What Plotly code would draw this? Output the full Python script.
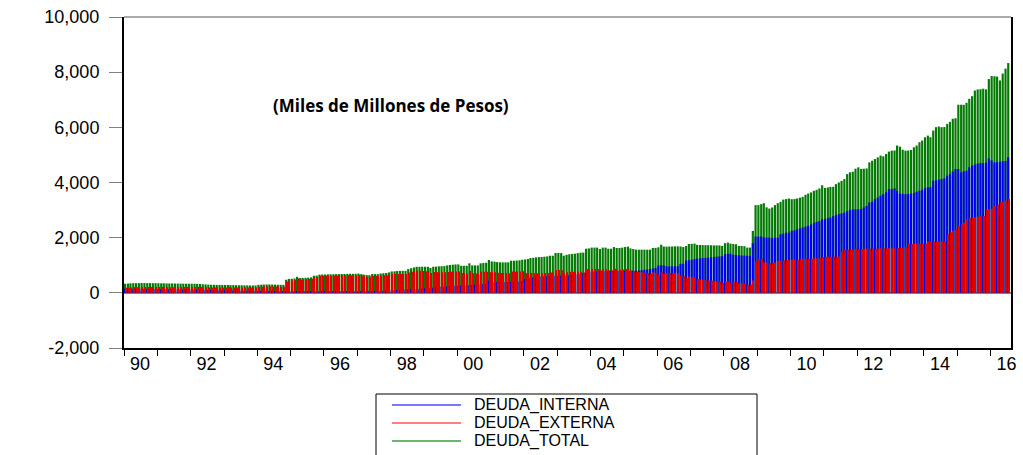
import pandas as pd
import plotly.graph_objects as go

# ---------------- data (monthly, Jan-1990 .. Jul-2016) ----------------
MONTHS = pd.date_range("1990-01-01", "2016-07-01", freq="MS").strftime("%Y-%m-%d").tolist()

INTERNA = [
    150, 150, 148, 148, 146, 146, 145, 145, 144, 143, 142, 140,      # 1990
    140, 138, 137, 136, 135, 134, 132, 130, 128, 126, 124, 122,      # 1991
    120, 118, 116, 113, 110, 107, 104, 100, 98, 95, 93, 90,          # 1992
    88, 86, 85, 84, 82, 80, 79, 78, 77, 76, 75, 74,                  # 1993
    73, 72, 72, 71, 70, 70, 69, 68, 68, 67, 66, 66,                  # 1994
    60, 58, 56, 55, 54, 53, 52, 52, 51, 50, 50, 50,                  # 1995
    50, 49, 49, 48, 48, 48, 48, 49, 49, 50, 50, 51,                  # 1996
    52, 54, 56, 58, 60, 62, 64, 66, 70, 75, 80, 85,                  # 1997
    95, 100, 105, 110, 115, 120, 125, 128, 130, 135, 140, 150,       # 1998
    160, 170, 180, 190, 200, 210, 220, 228, 236, 244, 250, 255,      # 1999
    258, 262, 266, 270, 278, 285, 292, 300, 310, 320, 330, 440,      # 2000
    380, 380, 385, 385, 390, 390, 392, 395, 398, 400, 405, 420,      # 2001
    500, 520, 540, 560, 575, 585, 590, 595, 600, 605, 610, 615,      # 2002
    620, 622, 625, 630, 640, 650, 660, 670, 690, 720, 740, 760,      # 2003
    770, 772, 775, 778, 780, 782, 785, 785, 788, 790, 792, 795,      # 2004
    795, 798, 800, 802, 805, 810, 820, 835, 850, 865, 880, 900,      # 2005
    990, 1000, 995, 960, 960, 960, 960, 965, 1050, 1055, 1175, 1180,  # 2006
    1200, 1220, 1240, 1250, 1260, 1270, 1280, 1290, 1300, 1310, 1320, 1330,  # 2007
    1395, 1410, 1420, 1380, 1370, 1360, 1355, 1350, 1345, 1340, 1800, 2040,  # 2008
    2040, 2040, 2010, 2000, 2000, 1990, 1995, 2000, 2120, 2150, 2180, 2180,  # 2009
    2245, 2270, 2300, 2330, 2365, 2400, 2425, 2480, 2525, 2570, 2600, 2670,  # 2010
    2670, 2700, 2730, 2780, 2815, 2850, 2880, 2910, 2960, 3010, 3020, 3030,  # 2011
    3030, 3040, 3095, 3150, 3275, 3300, 3395, 3450, 3520, 3580, 3650, 3760,  # 2012
    3760, 3785, 3700, 3600, 3590, 3580, 3590, 3600, 3620, 3665, 3700, 3740,  # 2013
    3800, 3820, 3830, 4065, 4080, 4100, 4125, 4150, 4245, 4300, 4400, 4490,  # 2014
    4490, 4370, 4400, 4430, 4550, 4610, 4650, 4680, 4705, 4700, 4720, 4875,  # 2015
    4800, 4730, 4740, 4750, 4770, 4780, 4915,                                # 2016
]

EXTERNA = [
    180, 185, 197, 202, 204, 206, 210, 210, 208, 209, 208, 210,      # 1990
    208, 207, 208, 206, 205, 206, 206, 206, 207, 207, 208, 208,      # 1991
    210, 210, 209, 207, 202, 198, 194, 192, 192, 193, 195, 197,      # 1992
    197, 198, 197, 196, 196, 196, 196, 194, 193, 192, 191, 191,      # 1993
    217, 223, 228, 231, 235, 230, 229, 227, 224, 223, 409, 439,      # 1994
    450, 462, 524, 480, 486, 492, 498, 508, 569, 575, 610, 615,      # 1995
    615, 621, 623, 627, 630, 632, 634, 636, 639, 640, 640, 639,      # 1996
    648, 626, 604, 587, 580, 618, 616, 614, 630, 635, 640, 655,      # 1997
    680, 680, 685, 685, 685, 680, 735, 762, 790, 810, 805, 795,      # 1998
    785, 775, 720, 755, 750, 750, 745, 742, 759, 766, 770, 775,      # 1999
    772, 718, 714, 710, 792, 710, 703, 695, 760, 760, 760, 750,      # 2000
    760, 750, 730, 720, 715, 715, 713, 770, 767, 770, 775, 780,      # 2001
    710, 705, 720, 710, 710, 710, 710, 715, 720, 740, 735, 830,      # 2002
    825, 818, 720, 750, 760, 760, 760, 770, 765, 740, 860, 850,      # 2003
    870, 868, 865, 812, 860, 858, 815, 815, 872, 835, 833, 845,      # 2004
    865, 877, 810, 788, 760, 755, 745, 730, 715, 700, 745, 730,      # 2005
    660, 745, 685, 715, 720, 720, 725, 720, 630, 605, 525, 590,      # 2006
    575, 565, 500, 485, 470, 460, 445, 435, 420, 410, 400, 370,      # 2007
    405, 410, 365, 390, 390, 340, 345, 340, 295, 300, 445, 1140,     # 2008
    1240, 1235, 1100, 1090, 1085, 1090, 1100, 1150, 1160, 1170, 1180, 1190,  # 2009
    1195, 1200, 1200, 1210, 1240, 1240, 1245, 1240, 1245, 1250, 1260, 1300,  # 2010
    1310, 1305, 1310, 1315, 1310, 1320, 1480, 1560, 1560, 1570, 1560, 1600,  # 2011
    1600, 1590, 1600, 1605, 1600, 1610, 1600, 1600, 1620, 1620, 1610, 1620,  # 2012
    1620, 1610, 1625, 1630, 1620, 1650, 1780, 1770, 1780, 1790, 1780, 1790,  # 2013
    1790, 1850, 1860, 1860, 1865, 1860, 1870, 1880, 2120, 2200, 2250, 2300,  # 2014
    2420, 2480, 2540, 2670, 2700, 2730, 2750, 2760, 2790, 2790, 3000, 3030,  # 2015
    3050, 3150, 3200, 3280, 3300, 3350, 3400,                                # 2016
]

TOTAL = [
    330, 335, 345, 350, 350, 352, 355, 355, 352, 352, 350, 350,      # 1990
    348, 345, 345, 342, 340, 340, 338, 336, 335, 333, 332, 330,      # 1991
    330, 328, 325, 320, 312, 305, 298, 292, 290, 288, 288, 287,      # 1992
    285, 284, 282, 280, 278, 276, 275, 272, 270, 268, 266, 265,      # 1993
    290, 295, 300, 302, 305, 300, 298, 295, 292, 290, 475, 505,      # 1994
    510, 520, 580, 535, 540, 545, 550, 560, 620, 625, 660, 665,      # 1995
    665, 670, 672, 675, 678, 680, 682, 685, 688, 690, 690, 690,      # 1996
    700, 680, 660, 645, 640, 680, 680, 680, 700, 710, 720, 740,      # 1997
    775, 780, 790, 795, 800, 800, 860, 890, 920, 945, 945, 945,      # 1998
    945, 945, 900, 945, 950, 960, 965, 970, 995, 1010, 1020, 1030,   # 1999
    1030, 980, 980, 980, 1070, 995, 995, 995, 1070, 1080, 1090, 1190,  # 2000
    1140, 1130, 1115, 1105, 1105, 1105, 1105, 1165, 1165, 1170, 1180, 1200,  # 2001
    1210, 1225, 1260, 1270, 1285, 1295, 1300, 1310, 1320, 1345, 1345, 1445,  # 2002
    1445, 1440, 1345, 1380, 1400, 1410, 1420, 1440, 1455, 1460, 1600, 1610,  # 2003
    1640, 1640, 1640, 1590, 1640, 1640, 1600, 1600, 1660, 1625, 1625, 1640,  # 2004
    1660, 1675, 1610, 1590, 1565, 1565, 1565, 1565, 1565, 1565, 1625, 1630,  # 2005
    1650, 1745, 1680, 1675, 1680, 1680, 1685, 1685, 1680, 1660, 1700, 1770,  # 2006
    1775, 1785, 1740, 1735, 1730, 1730, 1725, 1725, 1720, 1720, 1720, 1700,  # 2007
    1800, 1820, 1785, 1770, 1760, 1700, 1700, 1690, 1640, 1640, 2245, 3180,  # 2008
    3180, 3215, 3250, 3100, 3055, 3095, 3180, 3250, 3300, 3380, 3400, 3420,  # 2009
    3395, 3400, 3420, 3450, 3480, 3555, 3600, 3640, 3700, 3735, 3785, 3900,  # 2010
    3800, 3820, 3840, 3845, 3940, 4000, 4060, 4125, 4305, 4370, 4390, 4500,  # 2011
    4550, 4490, 4500, 4510, 4730, 4790, 4850, 4910, 4975, 4950, 5035, 5120,  # 2012
    5155, 5160, 5340, 5300, 5190, 5155, 5160, 5180, 5275, 5340, 5460, 5520,  # 2013
    5640, 5700, 5640, 5885, 6005, 6030, 6005, 6010, 6125, 6200, 6310, 6330,  # 2014
    6820, 6820, 6815, 6890, 7035, 7130, 7335, 7375, 7380, 7400, 7375, 7750,  # 2015
    7860, 7850, 7840, 7700, 7950, 8130, 8330,                                # 2016
]

SERIES_NAMES = ["DEUDA_INTERNA", "DEUDA_EXTERNA", "DEUDA_TOTAL"]

Y_TICKS = [-2000, 0, 2000, 4000, 6000, 8000, 10000]
Y_LABELS = ["-2,000", "0", "2,000", "4,000", "6,000", "8,000", "10,000"]

YEAR_TICKS = [f"{y}-01-01" for y in range(1990, 2017)]
YEAR_LABELS = ["90", "", "92", "", "94", "", "96", "", "98", "", "00", "", "02", "",
               "04", "", "06", "", "08", "", "10", "", "12", "", "14", "", "16"]

assert len(MONTHS) == len(INTERNA) == len(EXTERNA) == len(TOTAL)

# ---------------- styling ----------------
GREEN = "#007a00"
BLUE = "#0000ee"
RED = "#e00000"
LEGEND_COLORS = ["#4a4aff", "#ff5555", "#3c9c3c"]
MONTH_MS = 30.44 * 24 * 3600 * 1000
FONT = "Liberation Sans, Arial, sans-serif"
TICK_FONT = dict(family=FONT, size=18, color="black")

# plot area in pixels: x 124..1011, y 17..348
L, R, T, B = 124, 1011, 17, 348


def px(xp):
    return (xp - L) / (R - L)


def py(yp):
    return 1 - (yp - T) / (B - T)


fig = go.Figure()

fig.add_trace(go.Bar(x=MONTHS, y=TOTAL, name=SERIES_NAMES[2], showlegend=False,
                     marker=dict(color=GREEN, line=dict(width=0)),
                     width=MONTH_MS * 0.78, offset=0))
fig.add_trace(go.Bar(x=MONTHS, y=INTERNA, name=SERIES_NAMES[0], showlegend=False,
                     marker=dict(color=BLUE, line=dict(width=0)),
                     width=MONTH_MS * 0.75, offset=0))
fig.add_trace(go.Bar(x=MONTHS, y=EXTERNA, name=SERIES_NAMES[1], showlegend=False,
                     marker=dict(color=RED, line=dict(width=0)),
                     width=MONTH_MS * 0.38, offset=MONTH_MS * 0.42))

shapes = [
    # thin grey top border of the plot frame
    dict(type="line", xref="paper", yref="paper", x0=0, x1=1, y0=1, y1=1,
         line=dict(color="#555555", width=1), layer="above"),
    # legend box drawn like the original (line samples + labels)
    dict(type="rect", xref="paper", yref="paper",
         x0=px(376), x1=px(757), y0=py(394), y1=py(470),
         line=dict(color="black", width=1), fillcolor="white", layer="above"),
]
annotations = [dict(text="(Miles de Millones de Pesos)", xref="paper", yref="paper",
                    x=px(391), y=py(105), xanchor="center", yanchor="middle",
                    showarrow=False,
                    font=dict(family="Open Sans, Lato, sans-serif", size=17,
                              color="black", weight="bold"))]
for i, (name, col) in enumerate(zip(SERIES_NAMES, LEGEND_COLORS)):
    yrow = 405 + i * 18
    shapes.append(dict(type="line", xref="paper", yref="paper",
                       x0=px(392), x1=px(461), y0=py(yrow), y1=py(yrow),
                       line=dict(color=col, width=1.3), layer="above"))
    annotations.append(dict(text=name, xref="paper", yref="paper",
                            x=px(473), y=py(yrow), xanchor="left", yanchor="middle",
                            showarrow=False, borderpad=0,
                            font=dict(family=FONT, size=16, color="black")))

fig.update_layout(
    width=1023, height=455,
    template="none",
    barmode="overlay",
    paper_bgcolor="white", plot_bgcolor="white",
    margin=dict(l=L, r=1023 - R, t=T, b=455 - B, autoexpand=False),
    showlegend=False,
    shapes=shapes,
    annotations=annotations,
)

fig.update_xaxes(
    type="date", range=["1990-01-01", "2016-08-12"],
    tickmode="array", tickvals=YEAR_TICKS, ticktext=YEAR_LABELS,
    ticks="outside", ticklen=6, tickwidth=1, tickcolor="black",
    ticklabelshift=16, ticklabelstandoff=-8, tickfont=TICK_FONT,
    showgrid=False, zeroline=False,
    showline=True, linecolor="black", linewidth=2, mirror=False,
)
fig.update_yaxes(
    range=[-2000, 10000], tickmode="array", tickvals=Y_TICKS, ticktext=Y_LABELS,
    ticks="outside", ticklen=13, tickwidth=1, tickcolor="#808080",
    ticklabelstandoff=6, tickfont=TICK_FONT,
    showgrid=False,
    zeroline=True, zerolinecolor="#808080", zerolinewidth=2,
    showline=True, linecolor="black", linewidth=2, mirror=True,
)

fig.write_html("out.html", config={"displayModeBar": False},
               post_script="document.body.style.margin='0';")
